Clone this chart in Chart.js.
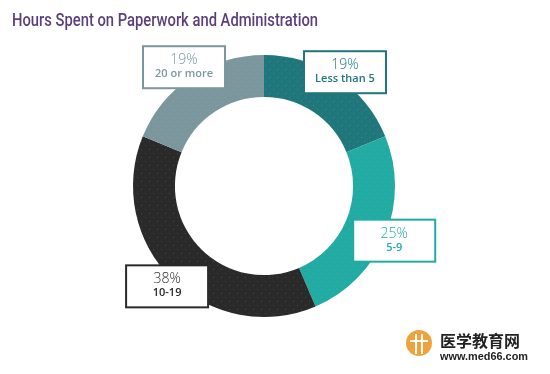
<!DOCTYPE html>
<html>
<head>
<meta charset="utf-8">
<script src="https://cdn.jsdelivr.net/npm/chart.js@4"></script>
<style>
  html, body { margin: 0; padding: 0; background: #fff; }
  #wrap { width: 550px; height: 374px; }
</style>
</head>
<body>
<div id="wrap"><canvas id="hoursChart" width="550" height="374"></canvas></div>
<script>
var categories = ['Less than 5', '5-9', '10-19', '20 or more'];
var shares = [19, 25, 38, 19];
var shareLabels = ['19%', '25%', '38%', '19%'];
var titleText = 'Hours Spent on Paperwork and Administration';

var colors = ['#1f767b', '#21aba2', '#2a2a2a', '#7b979d'];
// box nudges from the outer edge of each slice
var boxDx = [8, 9, -5, -7];
var boxDy = [-5, 5, 7, -10];

function dotted(base) {
    var c = document.createElement('canvas');
    c.width = 8; c.height = 8;
    var g = c.getContext('2d');
    g.fillStyle = base;
    g.fillRect(0, 0, 8, 8);
    g.fillStyle = 'rgba(255,255,255,0.13)';
    g.fillRect(1, 1, 1, 1);
    g.fillRect(5, 5, 1, 1);
    return g.createPattern(c, 'repeat');
}

var decorPlugin = {
    id: 'decor',
    afterDatasetsDraw: function(chart) {
        var ctx = chart.ctx;
        ctx.save();
        // title
        ctx.fillStyle = '#5a3f7c';
        ctx.font = '500 18px Roboto';
        ctx.textAlign = 'left';
        ctx.textBaseline = 'alphabetic';
        ctx.fillText(titleText, 12, 26, 306);

        // slice labels in boxes
        var arcs = chart.getDatasetMeta(0).data;
        arcs.forEach(function(arc, i) {
            var p = arc.getProps(['x', 'y', 'startAngle', 'endAngle', 'outerRadius'], true);
            var mid = (p.startAngle + p.endAngle) / 2;
            var cx = p.x + Math.cos(mid) * p.outerRadius + boxDx[i];
            var cy = p.y + Math.sin(mid) * p.outerRadius + boxDy[i];
            var w = 82, h = 42;
            ctx.fillStyle = '#ffffff';
            ctx.fillRect(cx - w / 2, cy - h / 2, w, h);
            ctx.strokeStyle = colors[i];
            ctx.lineWidth = 2;
            ctx.strokeRect(cx - w / 2, cy - h / 2, w, h);
            ctx.fillStyle = colors[i];
            ctx.textAlign = 'center';
            ctx.textBaseline = 'middle';
            ctx.font = '300 14px "Open Sans"';
            ctx.fillText(shareLabels[i], cx, cy - 7);
            ctx.font = '600 11px "Open Sans"';
            ctx.fillText(categories[i], cx, cy + 7);
        });

        // watermark
        ctx.fillStyle = '#f0a23a';
        ctx.beginPath();
        ctx.arc(419, 343, 13, 0, Math.PI * 2);
        ctx.fill();
        ctx.strokeStyle = '#ffffff';
        ctx.lineWidth = 2;
        ctx.beginPath();
        ctx.moveTo(410, 341); ctx.lineTo(428, 341);
        ctx.moveTo(416, 334); ctx.lineTo(416, 354);
        ctx.moveTo(422, 334); ctx.lineTo(422, 354);
        ctx.stroke();
        ctx.fillStyle = '#222222';
        ctx.textAlign = 'left';
        ctx.textBaseline = 'alphabetic';
        ctx.font = 'bold 16px "Noto Sans CJK SC"';
        ctx.fillText('医学教育网', 440, 347, 88);
        ctx.font = 'bold 11px "Liberation Sans"';
        ctx.fillText('www.med66.com', 440, 360, 88);
        ctx.restore();
    }
};

var ctx = document.getElementById('hoursChart').getContext('2d');
new Chart(ctx, {
    type: 'doughnut',
    data: {
        labels: categories,
        datasets: [{
            data: shares,
            backgroundColor: colors.map(dotted),
            borderWidth: 0
        }]
    },
    options: {
        responsive: false,
        animation: false,
        cutout: '68%',
        layout: { padding: { top: 55, bottom: 57, left: 133, right: 155 } },
        plugins: {
            legend: { display: false },
            tooltip: { enabled: false }
        }
    },
    plugins: [decorPlugin]
});
</script>
</body>
</html>
